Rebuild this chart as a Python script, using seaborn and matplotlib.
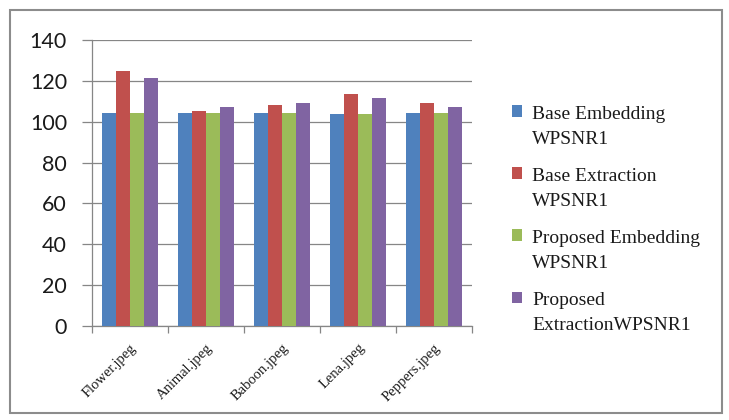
import matplotlib
matplotlib.use("Agg")
import matplotlib.pyplot as plt
from matplotlib.patches import Rectangle
from matplotlib.legend_handler import HandlerPatch
import seaborn as sns
import pandas as pd

images = ["Flower.jpeg", "Animal.jpeg", "Baboon.jpeg", "Lena.jpeg", "Peppers.jpeg"]
series = ["Base Embedding\nWPSNR1", "Base Extraction\nWPSNR1",
          "Proposed Embedding\nWPSNR1", "Proposed\nExtractionWPSNR1"]
base_embedding = [104.5, 104.5, 104.5, 103.9, 104.5]
base_extraction = [124.6, 105.2, 108.2, 113.4, 109.0]
proposed_embedding = [104.5, 104.5, 104.5, 103.9, 104.5]
proposed_extraction = [121.4, 107.2, 109.0, 111.4, 107.2]
colors = ["#4F81BD", "#C0504D", "#9BBB59", "#8064A2"]
yticks = [0, 20, 40, 60, 80, 100, 120, 140]

rows = []
for name, vals in zip(series, [base_embedding, base_extraction,
                               proposed_embedding, proposed_extraction]):
    for img, v in zip(images, vals):
        rows.append({"image": img, "series": name, "value": v})
df = pd.DataFrame(rows)

sns.set_style("white")
fig = plt.figure(figsize=(7.29, 4.2), dpi=100)
ax = fig.add_axes([92 / 729, 1 - 326 / 420, 380 / 729, 286 / 420])

sns.barplot(data=df, x="image", y="value", hue="series", order=images,
            hue_order=series, palette=colors, width=0.727, saturation=1,
            ax=ax, zorder=3)
for p in ax.patches:
    p.set_edgecolor("none")

ax.set_ylim(0, 140)
ax.set_xlim(-0.5, 4.5)
ax.set_yticks(yticks)
ax.set_yticklabels([str(t) for t in yticks], fontsize=15.5, family="Lato", color="#1a1a1a")
ax.yaxis.grid(True, color="#868686", linewidth=0.9, zorder=0)
ax.set_axisbelow(True)
ax.tick_params(axis="y", length=7, color="#868686", width=0.9, pad=11, direction="out", left=True)

ax.set_xticks(range(len(images)))
ax.set_xticklabels(images, rotation=45, ha="right", rotation_mode="anchor",
                   fontsize=10.5, family="Liberation Serif", color="#1a1a1a")
ax.tick_params(axis="x", length=0, pad=11)
ax.set_xticks([i - 0.5 for i in range(len(images) + 1)], minor=True)
ax.tick_params(axis="x", which="minor", length=5, color="#868686", width=0.9, direction="out", bottom=True)
ax.set_xlabel("")
ax.set_ylabel("")

for side in ["top", "right"]:
    ax.spines[side].set_visible(False)
for side in ["left", "bottom"]:
    ax.spines[side].set_color("#868686")
    ax.spines[side].set_linewidth(0.9)


def square_on_first_line(legend, orig_handle, xdescent, ydescent, width, height, fontsize):
    # lift the colour square so it sits beside the first line of a two-line label
    return Rectangle((-xdescent, -ydescent + 0.8 * fontsize), width, height)


handles, labels = ax.get_legend_handles_labels()
leg = ax.legend(handles, labels, loc="upper left", bbox_to_anchor=(504 / 729, 1 - 98 / 420),
                bbox_transform=fig.transFigure, frameon=False,
                prop={"family": "Liberation Serif", "size": 14},
                handlelength=0.55, handleheight=0.55, handletextpad=0.5,
                labelspacing=1.05, borderaxespad=0,
                handler_map={Rectangle: HandlerPatch(patch_func=square_on_first_line)})
for t in leg.get_texts():
    t.set_linespacing(1.6)
    t.set_color("#1a1a1a")

fig.patches.append(Rectangle((10 / 729, 1 - 413 / 420), 712 / 729, 403 / 420,
                             transform=fig.transFigure, fill=False,
                             edgecolor="#8c8c8c", linewidth=1.5))

fig.savefig("out.png", dpi=100)
